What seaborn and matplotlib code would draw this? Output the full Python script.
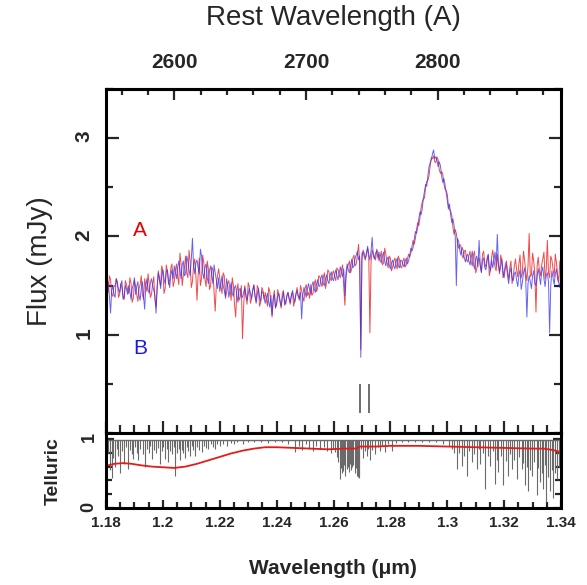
import numpy as np
import pandas as pd
import matplotlib
matplotlib.use("Agg")
import matplotlib.pyplot as plt
from matplotlib.ticker import MultipleLocator
import seaborn as sns

# ---------------- data ----------------
# observed wavelength grid (micron), 0.0004 micron sampling
wave = np.round(np.linspace(1.18, 1.34, 401), 4)

# image A flux (mJy x 100)
flux_a = [
    153, 147, 143, 160, 156, 141, 139, 150, 149, 157, 154, 138, 141, 152, 148, 139, 136, 155, 151, 146,
    142, 158, 152, 133, 137, 155, 149, 141, 134, 147, 151, 160, 141, 136, 157, 149, 144, 162, 151, 138,
    141, 152, 159, 136, 128, 147, 165, 155, 150, 170, 165, 142, 147, 171, 164, 151, 156, 168, 172, 149,
    154, 166, 172, 159, 151, 183, 172, 150, 161, 169, 180, 163, 158, 186, 174, 148, 154, 171, 177, 160,
    135, 161, 178, 150, 157, 181, 173, 156, 149, 175, 167, 146, 150, 169, 166, 143, 124, 151, 160, 167,
    158, 149, 142, 163, 160, 137, 143, 152, 155, 146, 135, 158, 150, 131, 118, 144, 152, 135, 138, 150,
    96, 128, 150, 141, 131, 153, 149, 132, 137, 146, 151, 140, 134, 150, 147, 129, 133, 148, 145, 136,
    143, 136, 129, 148, 144, 131, 118, 137, 145, 128, 130, 146, 140, 133, 127, 142, 145, 130, 134, 139,
    143, 136, 131, 140, 143, 129, 135, 142, 148, 139, 135, 150, 145, 138, 134, 147, 151, 140, 143, 137,
    151, 140, 142, 151, 156, 144, 147, 160, 159, 153, 149, 158, 163, 147, 154, 166, 164, 157, 155, 162,
    165, 159, 155, 168, 166, 161, 158, 166, 171, 149, 130, 158, 168, 171, 175, 163, 167, 178, 181, 170,
    172, 181, 192, 175, 85, 183, 184, 179, 176, 184, 188, 178, 102, 174, 186, 182, 179, 176, 187, 184,
    175, 179, 185, 171, 173, 188, 182, 174, 168, 180, 178, 165, 169, 175, 178, 171, 167, 180, 176, 169,
    168, 175, 178, 169, 171, 177, 182, 179, 183, 190, 196, 192, 198, 207, 214, 211, 219, 229, 235, 238,
    239, 250, 256, 257, 262, 272, 280, 279, 282, 276, 275, 281, 278, 268, 264, 266, 264, 254, 248, 247,
    243, 232, 227, 226, 221, 209, 202, 207, 203, 193, 188, 192, 190, 181, 178, 185, 186, 176, 174, 180,
    185, 174, 170, 181, 185, 163, 167, 176, 178, 170, 164, 182, 185, 172, 169, 178, 181, 160, 166, 179,
    186, 176, 169, 165, 182, 170, 162, 181, 176, 158, 163, 171, 175, 164, 157, 168, 175, 152, 159, 170,
    177, 166, 159, 172, 181, 158, 162, 185, 176, 164, 155, 170, 203, 159, 161, 183, 175, 162, 123, 170,
    179, 165, 160, 171, 177, 184, 157, 166, 196, 163, 158, 180, 176, 167, 159, 182, 173, 161, 154, 175, 168,
]

# image B flux (mJy x 100)
flux_b = [
    142, 150, 154, 139, 122, 145, 150, 141, 138, 157, 152, 146, 143, 151, 155, 136, 139, 150, 147, 141,
    150, 144, 136, 147, 151, 158, 141, 149, 154, 140, 135, 147, 154, 139, 126, 150, 157, 146, 142, 153,
    157, 150, 145, 140, 122, 151, 163, 158, 147, 160, 166, 157, 152, 164, 166, 155, 148, 161, 166, 157,
    170, 163, 157, 168, 175, 166, 157, 171, 175, 160, 162, 180, 175, 166, 160, 177, 198, 170, 162, 173,
    176, 168, 162, 187, 180, 163, 157, 169, 172, 158, 152, 165, 170, 160, 152, 171, 163, 156, 147, 158,
    144, 151, 160, 150, 145, 139, 157, 150, 138, 145, 153, 142, 139, 148, 150, 140, 133, 146, 147, 140,
    138, 143, 148, 139, 135, 141, 147, 142, 137, 145, 150, 139, 132, 141, 147, 138, 134, 144, 143, 137,
    132, 138, 142, 133, 128, 140, 120, 136, 141, 127, 132, 139, 142, 135, 129, 137, 143, 134, 131, 140,
    143, 137, 133, 141, 145, 138, 133, 141, 145, 139, 137, 143, 116, 140, 148, 144, 138, 146, 152, 146,
    141, 150, 154, 147, 143, 151, 156, 150, 149, 158, 161, 152, 150, 157, 161, 155, 152, 160, 164, 157,
    155, 161, 166, 160, 156, 163, 169, 163, 159, 167, 140, 163, 172, 166, 163, 170, 177, 168, 170, 178,
    181, 185, 176, 180, 77, 177, 186, 183, 178, 181, 190, 182, 176, 185, 199, 180, 177, 183, 185, 178,
    184, 176, 173, 180, 184, 175, 170, 177, 179, 171, 167, 173, 176, 170, 167, 174, 178, 170, 168, 176,
    175, 172, 169, 174, 178, 172, 175, 181, 188, 185, 189, 197, 205, 203, 209, 218, 225, 222, 228, 239,
    246, 253, 251, 262, 271, 275, 278, 284, 288, 279, 281, 277, 271, 276, 272, 262, 255, 259, 253, 245,
    237, 228, 233, 222, 214, 218, 211, 201, 150, 198, 195, 186, 181, 189, 186, 178, 174, 180, 182, 175,
    171, 178, 185, 172, 167, 177, 180, 169, 196, 171, 163, 176, 178, 168, 166, 175, 182, 169, 165, 176,
    168, 176, 184, 170, 202, 172, 164, 170, 177, 165, 158, 167, 172, 160, 152, 163, 168, 158, 155, 162,
    164, 155, 149, 161, 166, 146, 153, 163, 168, 156, 118, 152, 160, 154, 147, 160, 165, 152, 150, 159,
    167, 160, 151, 164, 169, 157, 149, 160, 163, 154, 102, 150, 165, 158, 151, 162, 167, 156, 153, 148, 161,
]

# telluric absorption lines: position (micron) and minimum transmission
tell_pos = [
    1.1808, 1.1815, 1.1820, 1.1826, 1.1832, 1.1838, 1.1843, 1.1849, 1.1856, 1.1864,
    1.1870, 1.1878, 1.1885, 1.1890, 1.1896, 1.1903, 1.1908, 1.1914, 1.1921, 1.1929,
    1.1937, 1.1944, 1.1950, 1.1955, 1.1961, 1.1968, 1.1975, 1.1983, 1.1990, 1.1997,
    1.2002, 1.2007, 1.2013, 1.2019, 1.2026, 1.2033, 1.2038, 1.2043, 1.2050, 1.2055,
    1.2060, 1.2067, 1.2072, 1.2078, 1.2085, 1.2090, 1.2095, 1.2102, 1.2107, 1.2113,
    1.2120, 1.2128, 1.2136, 1.2145, 1.2152, 1.2160, 1.2170, 1.2176, 1.2183, 1.2192,
    1.2200, 1.2212, 1.2225, 1.2238, 1.2250, 1.2262, 1.2280, 1.2300, 1.2320, 1.2345,
    1.2370, 1.2395, 1.2420, 1.2440, 1.2465, 1.2478, 1.2490, 1.2502, 1.2515, 1.2528,
    1.2540, 1.2552, 1.2565, 1.2578, 1.2590, 1.2598, 1.2605, 1.2611, 1.2617,
    1.2622, 1.2626, 1.2630, 1.2634, 1.2638, 1.2642, 1.2646, 1.2650, 1.2654, 1.2658,
    1.2662, 1.2666, 1.2670, 1.2674, 1.2678, 1.2682, 1.2686, 1.2689, 1.2691,
    1.2698, 1.2705, 1.2711, 1.2717, 1.2723, 1.2728, 1.2735, 1.2746, 1.2755, 1.2763,
    1.2772, 1.2781, 1.2792, 1.2805, 1.2820, 1.2840, 1.2862, 1.2885, 1.2910, 1.2935,
    1.2960, 1.2985, 1.3005, 1.3015, 1.3025,
    1.3033, 1.3042, 1.3051, 1.3060, 1.3068, 1.3077, 1.3086, 1.3095, 1.3103, 1.3110,
    1.3115, 1.3124, 1.3133, 1.3142, 1.3150, 1.3160, 1.3168, 1.3175, 1.3180, 1.3189,
    1.3197, 1.3205, 1.3215, 1.3221, 1.3226, 1.3235, 1.3244, 1.3252, 1.3262, 1.3268,
    1.3273, 1.3280, 1.3285, 1.3291, 1.3297, 1.3305, 1.3314, 1.3320, 1.3326, 1.3332,
    1.3338, 1.3344, 1.3349, 1.3355, 1.3361, 1.3367, 1.3373, 1.3379, 1.3385, 1.3392,
]
tell_min = [
    0.80, 0.55, 0.43, 0.72, 0.60, 0.85, 0.75, 0.50, 0.82, 0.64,
    0.88, 0.56, 0.84, 0.78, 0.71, 0.88, 0.80, 0.69, 0.86, 0.78,
    0.60, 0.85, 0.80, 0.90, 0.71, 0.84, 0.80, 0.87, 0.64, 0.82,
    0.88, 0.71, 0.85, 0.66, 0.83, 0.78, 0.88, 0.47, 0.80, 0.86,
    0.69, 0.84, 0.80, 0.73, 0.88, 0.82, 0.76, 0.90, 0.84, 0.76,
    0.88, 0.84, 0.81, 0.90, 0.87, 0.86, 0.92, 0.89, 0.86, 0.93,
    0.90, 0.93, 0.90, 0.94, 0.92, 0.95, 0.93, 0.96, 0.95, 0.96,
    0.94, 0.96, 0.95, 0.93, 0.81, 0.90, 0.84, 0.92, 0.86, 0.82,
    0.90, 0.85, 0.88, 0.83, 0.80, 0.86, 0.81, 0.74, 0.66,
    0.42, 0.58, 0.50, 0.54, 0.62, 0.47, 0.56, 0.60, 0.52, 0.64,
    0.55, 0.59, 0.62, 0.50, 0.58, 0.47, 0.45, 0.44, 0.46,
    0.85, 0.73, 0.82, 0.76, 0.86, 0.69, 0.84, 0.78, 0.88, 0.83,
    0.90, 0.81, 0.92, 0.83, 0.94, 0.95, 0.96, 0.95, 0.96, 0.95,
    0.96, 0.93, 0.90, 0.85, 0.80,
    0.57, 0.80, 0.61, 0.75, 0.47, 0.82, 0.66, 0.78, 0.57, 0.85,
    0.64, 0.79, 0.28, 0.75, 0.61, 0.82, 0.35, 0.70, 0.52, 0.76,
    0.33, 0.68, 0.47, 0.78, 0.57, 0.70, 0.42, 0.74, 0.57, 0.65,
    0.33, 0.60, 0.24, 0.55, 0.47, 0.66, 0.19, 0.58, 0.38, 0.50,
    0.28, 0.62, 0.09, 0.45, 0.24, 0.55, 0.14, 0.50, 0.42, 0.60,
]

# smoothed atmospheric transmission
smooth_wave = [1.180, 1.183, 1.186, 1.189, 1.192, 1.196, 1.200, 1.204, 1.208, 1.212,
               1.216, 1.220, 1.224, 1.228, 1.232, 1.236, 1.240, 1.246, 1.252, 1.258,
               1.264, 1.268, 1.2693, 1.275, 1.280, 1.290, 1.300, 1.310, 1.320, 1.330,
               1.334, 1.337, 1.340]
smooth_trans = [0.61, 0.64, 0.65, 0.64, 0.62, 0.60, 0.59, 0.58, 0.60, 0.64,
                0.69, 0.74, 0.79, 0.83, 0.86, 0.88, 0.88, 0.87, 0.86, 0.85,
                0.86, 0.86, 0.89, 0.89, 0.90, 0.90, 0.89, 0.88, 0.87, 0.86,
                0.86, 0.84, 0.81]

# intervening absorbers marked below the spectrum
absorber_wave = [1.2693, 1.2725]

redshift_factor = 4.631   # 1 + z

# ---------------- style ----------------
sns.set_style("white")
plt.rcParams["font.family"] = ["Liberation Sans", "DejaVu Sans"]
plt.rcParams["font.weight"] = "bold"

W, H = 587, 585
fig = plt.figure(figsize=(W / 100, H / 100), dpi=100)

x0, x1 = 106, 561
ax = fig.add_axes([x0 / W, 1 - 433 / H, (x1 - x0) / W, (433 - 89) / H])
axt = fig.add_axes([x0 / W, 1 - 508 / H, (x1 - x0) / W, (508 - 433) / H])

spec = pd.DataFrame({"wave": wave,
                     "A": np.array(flux_a) / 100.0,
                     "B": np.array(flux_b) / 100.0})

sns.lineplot(data=spec, x="wave", y="A", ax=ax, color="#ec2a2a",
             lw=0.7, alpha=0.85, estimator=None, zorder=2)
sns.lineplot(data=spec, x="wave", y="B", ax=ax, color="#2f2ff0",
             lw=0.7, alpha=0.75, estimator=None, zorder=3)

ax.vlines(absorber_wave, 0.2, 0.5, color="#6e6e6e", lw=1.4, zorder=4)

ax.text(1.1920, 2.06, "A", color="#e60000", fontsize=15, fontweight="normal",
        ha="center", va="center")
ax.text(1.1920, 0.86, "B", color="#1a1ae6", fontsize=15, fontweight="normal",
        ha="center", va="center")

ax.set_xlim(1.18, 1.34)
ax.set_ylim(0, 3.5)
ax.set_xlabel("")
ax.set_ylabel("")
ax.xaxis.set_major_locator(MultipleLocator(0.02))
ax.xaxis.set_minor_locator(MultipleLocator(0.005))
ax.yaxis.set_major_locator(MultipleLocator(1))
ax.yaxis.set_minor_locator(MultipleLocator(0.5))
ax.tick_params(axis="x", which="both", direction="in", bottom=True, top=False,
               labelbottom=False, width=1.6)
ax.tick_params(axis="x", which="major", length=9)
ax.tick_params(axis="x", which="minor", length=5.5)
ax.tick_params(axis="y", which="both", direction="in", left=True, right=True,
               width=1.6)
ax.tick_params(axis="y", which="major", length=9, labelsize=15, pad=9,
               labelrotation=90)
ax.tick_params(axis="y", which="minor", length=5)
ax.set_yticks([1, 2, 3])

sec = ax.secondary_xaxis("top", functions=(lambda w: w * 1e4 / redshift_factor,
                                           lambda r: r * redshift_factor / 1e4))
sec.set_xticks([2600, 2700, 2800])
sec.xaxis.set_minor_locator(MultipleLocator(20))
sec.tick_params(axis="x", which="both", direction="in", width=1.6)
sec.tick_params(axis="x", which="major", length=8, labelsize=15, pad=12)
sec.tick_params(axis="x", which="minor", length=4.5)
sec.spines["top"].set_linewidth(2.2)

# telluric panel
axt.vlines(tell_pos, tell_min, 0.99, color="#6a6a6a", lw=0.8, zorder=2)
axt.axhline(0.99, color="#6a6a6a", lw=1.0, zorder=2)
sns.lineplot(x=smooth_wave, y=smooth_trans, ax=axt, color="#e41c1c", lw=1.3,
             estimator=None, zorder=3)
axt.set_xlim(1.18, 1.34)
axt.set_ylim(0, 1.086)
axt.set_yticks([0, 1])
axt.yaxis.set_minor_locator(MultipleLocator(0.2))
axt.xaxis.set_minor_locator(MultipleLocator(0.005))
axt.set_xticks([1.18, 1.2, 1.22, 1.24, 1.26, 1.28, 1.3, 1.32, 1.34])
axt.set_xticklabels(["1.18", "1.2", "1.22", "1.24", "1.26", "1.28", "1.3",
                     "1.32", "1.34"])
axt.tick_params(axis="x", which="both", direction="in", bottom=True, top=False,
                width=1.6)
axt.tick_params(axis="x", which="major", length=6, labelsize=11, pad=6)
axt.tick_params(axis="x", which="minor", length=4)
axt.tick_params(axis="y", which="both", direction="in", left=True, right=True,
                width=1.6)
axt.tick_params(axis="y", which="major", length=6, labelsize=13, pad=6,
                labelrotation=90)
axt.tick_params(axis="y", which="minor", length=4)
axt.set_xlabel("")
axt.set_ylabel("")

for a in (ax, axt):
    for s in a.spines.values():
        s.set_linewidth(2.2)
        s.set_color("black")
        s.set_zorder(5)

fig.text(333 / W, 1 - 18 / H, "Rest Wavelength (A)", fontsize=20,
         fontweight="normal", ha="center", va="center")
fig.text(40 / W, 1 - 261 / H, "Flux (mJy)", fontsize=20, fontweight="normal",
         rotation=90, ha="center", va="center")
fig.text(53 / W, 1 - 471 / H, "Telluric", fontsize=14, rotation=90,
         ha="center", va="center")
fig.text(333 / W, 1 - 568 / H, "Wavelength (μm)", fontsize=15,
         ha="center", va="center")

fig.savefig("out.png", dpi=100)
